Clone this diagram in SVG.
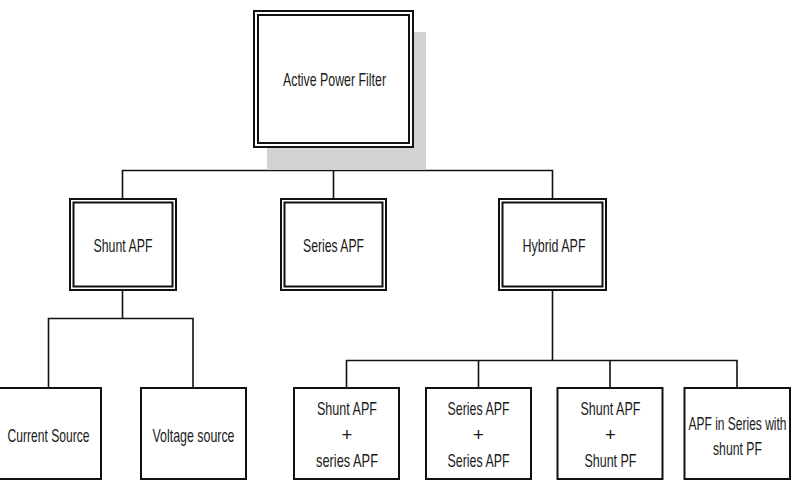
<svg xmlns="http://www.w3.org/2000/svg" width="795" height="492" viewBox="0 0 795 492">
<style>
.bg{fill:#fff}
.i{fill:#fff;stroke:#111;stroke-width:2}
.b{fill:#fff;stroke:#111;stroke-width:2}
.c{fill:none;stroke:#111;stroke-width:1.6}
.t{font-family:"Liberation Sans",Arial,sans-serif;font-size:18.5px;fill:#1a1a1a;text-anchor:middle}
</style>
<rect class="bg" x="0" y="0" width="795" height="492"/>
<g id="connectors">
<path class="c" d="M333.5,147V170.5M122.5,199V170.5H552.5V199M333.5,170.5V199"/>
<path class="c" d="M122.5,290V318.5M48.5,388V318.5H193V388"/>
<path class="c" d="M552.5,290V360.5M346.5,388V360.5H737V388M478.5,360.5V388M610,360.5V388"/>
</g>
<g id="apf">
<rect x="267" y="32" width="159" height="138" fill="#d2d2d2"/>
<rect class="i" x="254" y="11" width="159" height="136"/>
<rect class="i" x="258" y="15" width="151" height="128"/>
<text class="t" x="334.5" y="86" textLength="103" lengthAdjust="spacingAndGlyphs">Active Power Filter</text>
</g>
<g id="shunt">
<rect class="i" x="70" y="199" width="106" height="91"/>
<rect class="i" x="73.5" y="202.5" width="99" height="84"/>
<text class="t" x="123" y="252" textLength="59" lengthAdjust="spacingAndGlyphs">Shunt APF</text>
</g>
<g id="series">
<rect class="i" x="281" y="199" width="105" height="91"/>
<rect class="i" x="284.5" y="202.5" width="98" height="84"/>
<text class="t" x="333.5" y="252" textLength="61" lengthAdjust="spacingAndGlyphs">Series APF</text>
</g>
<g id="hybrid">
<rect class="i" x="499" y="199" width="107" height="91"/>
<rect class="i" x="502.5" y="202.5" width="100" height="84"/>
<text class="t" x="554" y="252" textLength="63" lengthAdjust="spacingAndGlyphs">Hybrid APF</text>
</g>
<g id="current">
<rect class="b" x="-5" y="388" width="106" height="91"/>
<text class="t" x="48.5" y="442" textLength="82" lengthAdjust="spacingAndGlyphs">Current Source</text>
</g>
<g id="voltage">
<rect class="b" x="141" y="388" width="105" height="91"/>
<text class="t" x="193.5" y="442" textLength="82" lengthAdjust="spacingAndGlyphs">Voltage source</text>
</g>
<g id="h1">
<rect class="b" x="294" y="388" width="105" height="91"/>
<text class="t" x="347" y="415" textLength="60" lengthAdjust="spacingAndGlyphs">Shunt APF</text>
<text class="t" x="347" y="441">+</text>
<text class="t" x="347" y="467" textLength="62" lengthAdjust="spacingAndGlyphs">series APF</text>
</g>
<g id="h2">
<rect class="b" x="426" y="388" width="105" height="91"/>
<text class="t" x="478.5" y="415" textLength="62" lengthAdjust="spacingAndGlyphs">Series APF</text>
<text class="t" x="478.5" y="441">+</text>
<text class="t" x="478.5" y="467" textLength="62" lengthAdjust="spacingAndGlyphs">Series APF</text>
</g>
<g id="h3">
<rect class="b" x="557.5" y="388" width="105" height="91"/>
<text class="t" x="610.5" y="415" textLength="60" lengthAdjust="spacingAndGlyphs">Shunt APF</text>
<text class="t" x="610.5" y="441">+</text>
<text class="t" x="610.5" y="467" textLength="52" lengthAdjust="spacingAndGlyphs">Shunt PF</text>
</g>
<g id="h4">
<rect class="b" x="684.5" y="388" width="105.5" height="91"/>
<text class="t" x="737.5" y="430" textLength="98" lengthAdjust="spacingAndGlyphs">APF in Series with</text>
<text class="t" x="737.5" y="455" textLength="49" lengthAdjust="spacingAndGlyphs">shunt PF</text>
</g>
</svg>
